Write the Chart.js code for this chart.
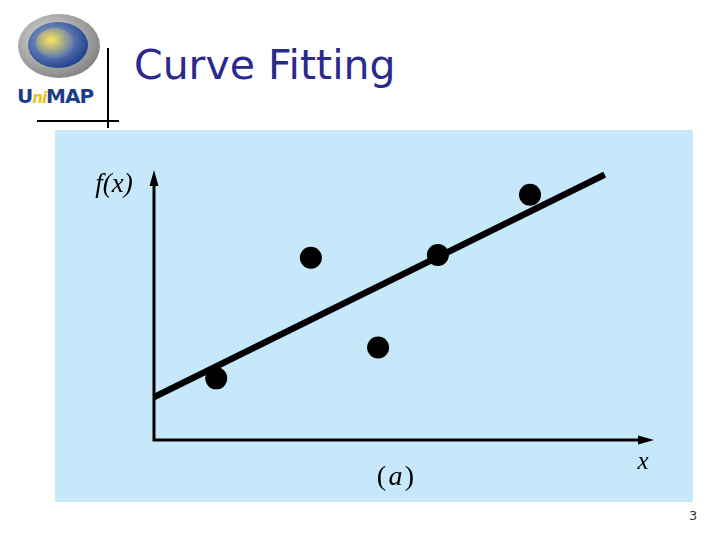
<!DOCTYPE html>
<html>
<head>
<meta charset="utf-8">
<script src="https://cdn.jsdelivr.net/npm/chart.js@4"></script>
<style>
  body { margin: 0; width: 720px; height: 540px; background: #fff; position: relative; overflow: hidden; }
  #title { position: absolute; left: 134px; top: 41px; font-family: "DejaVu Sans", sans-serif; font-size: 41px; color: #2a2a8e; white-space: nowrap; }
  .rule { position: absolute; background: #000; }
  #panel { position: absolute; left: 55px; top: 130px; width: 638px; height: 372px; background: #c7e8fa; }
  #pageNo { position: absolute; left: 689px; top: 508px; font-family: "DejaVu Sans", sans-serif; font-size: 13px; color: #333; }
  #logo { position: absolute; left: 18px; top: 14px; width: 82px; height: 64px; }
  #logo .ring1 { position: absolute; left: 0; top: 0; width: 82px; height: 64px; border-radius: 50%; background: radial-gradient(ellipse at 40% 40%, #e6e6e6, #8a8a8a 70%, #555 100%); }
  #logo .ring2 { position: absolute; left: 10px; top: 8px; width: 60px; height: 46px; border-radius: 50%; background: radial-gradient(ellipse at 40% 40%, #9fb4d8, #1f3f8f 75%); }
  #logo .ring3 { position: absolute; left: 18px; top: 14px; width: 38px; height: 30px; border-radius: 50%; background: radial-gradient(ellipse at 40% 40%, #ffe45a, #4a6fb8 80%); }
  #logoText { position: absolute; left: 17px; top: 84px; font-family: "DejaVu Sans", sans-serif; font-weight: bold; font-size: 20px; color: #1d3b8c; letter-spacing: -1px; }
  #logoText span { color: #e6c21a; font-style: italic; font-size: 15px; }
</style>
</head>
<body>
<div id="logo"><div class="ring1"></div><div class="ring2"></div><div class="ring3"></div></div>
<div id="logoText">U<span>ni</span>MAP</div>
<div class="rule" style="left:107px; top:48px; width:2px; height:80px;"></div>
<div class="rule" style="left:37px; top:120px; width:82px; height:2px;"></div>
<div id="title">Curve Fitting</div>
<div id="panel"><canvas id="fitChart" width="638" height="372"></canvas></div>
<div id="pageNo">3</div>
<script>
// data points (axis units 0..10)
const pointX = [1.25, 3.15, 4.5, 5.7, 7.55];
const pointY = [2.3, 6.8, 3.45, 6.9, 9.15];
// fitted straight line, start and end
const fitX = [0, 9.05];
const fitY = [1.6, 9.9];

const axisLabels = { y: 'f(x)', x: 'x', caption: 'a' };

// axes with arrows and labels
const axesPlugin = {
  id: 'axesArrows',
  beforeDatasetsDraw(chart) {
    const ctx = chart.ctx;
    const xs = chart.scales.x, ys = chart.scales.y;
    const x0 = xs.getPixelForValue(0), y0 = ys.getPixelForValue(0);
    const xEnd = xs.getPixelForValue(10), yEnd = ys.getPixelForValue(10);
    ctx.save();
    ctx.strokeStyle = '#000';
    ctx.fillStyle = '#000';
    ctx.lineWidth = 3;
    ctx.beginPath();
    ctx.moveTo(x0, yEnd + 8);
    ctx.lineTo(x0, y0);
    ctx.lineTo(xEnd - 8, y0);
    ctx.stroke();
    // arrow heads
    ctx.beginPath();
    ctx.moveTo(x0, yEnd - 2);
    ctx.lineTo(x0 - 4.5, yEnd + 14);
    ctx.lineTo(x0 + 4.5, yEnd + 14);
    ctx.closePath();
    ctx.fill();
    ctx.beginPath();
    ctx.moveTo(xEnd + 2, y0);
    ctx.lineTo(xEnd - 14, y0 - 4.5);
    ctx.lineTo(xEnd - 14, y0 + 4.5);
    ctx.closePath();
    ctx.fill();
    // labels
    ctx.textBaseline = 'middle';
    ctx.textAlign = 'center';
    ctx.font = 'italic 27px "Liberation Serif", serif';
    ctx.fillText(axisLabels.y, x0 - 40, yEnd + 13);
    ctx.font = 'italic 25px "Liberation Serif", serif';
    ctx.fillText(axisLabels.x, xEnd - 9, y0 + 22);
    ctx.font = '28px "Liberation Serif", serif';
    const cx = xs.getPixelForValue(4.85), cy = y0 + 38;
    ctx.fillText('(', cx - 14, cy);
    ctx.fillText(')', cx + 14, cy);
    ctx.font = 'italic 28px "Liberation Serif", serif';
    ctx.fillText(axisLabels.caption, cx, cy);
    ctx.restore();
  }
};

new Chart(document.getElementById('fitChart').getContext('2d'), {
  type: 'scatter',
  data: {
    datasets: [
      {
        label: 'Fit',
        type: 'line',
        data: fitX.map((x, i) => ({ x: x, y: fitY[i] })),
        borderColor: '#000',
        borderWidth: 6.5,
        pointRadius: 0,
        fill: false,
        clip: false,
        order: 2
      },
      {
        label: 'Data',
        data: pointX.map((x, i) => ({ x: x, y: pointY[i] })),
        backgroundColor: '#000',
        borderColor: '#000',
        borderWidth: 0,
        pointRadius: 11,
        clip: false,
        order: 1
      }
    ]
  },
  options: {
    responsive: false,
    animation: false,
    layout: { padding: { left: 99, top: 42, right: 41, bottom: 62 } },
    plugins: { legend: { display: false }, tooltip: { enabled: false } },
    scales: {
      x: { type: 'linear', min: 0, max: 10, display: false },
      y: { type: 'linear', min: 0, max: 10, display: false }
    }
  },
  plugins: [axesPlugin]
});
</script>
</body>
</html>
